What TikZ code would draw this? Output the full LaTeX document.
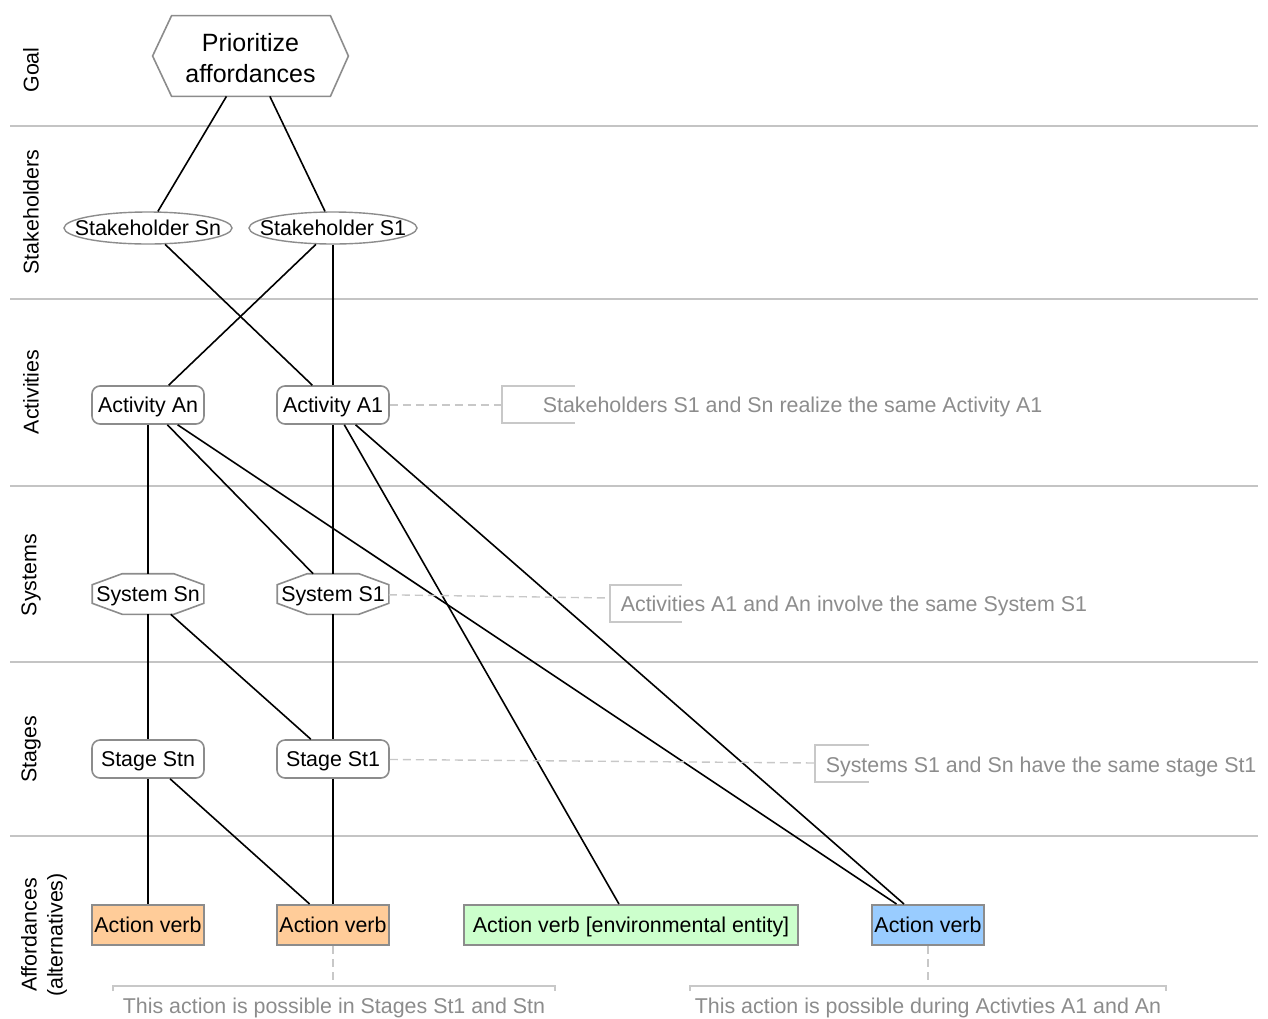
\documentclass[tikz,border=0pt]{standalone}
\usepackage{fontspec}
\setmainfont{Liberation Sans}
\usetikzlibrary{shapes.geometric, calc}

\definecolor{lanegray}{HTML}{C4C4C4}
\definecolor{bordergray}{HTML}{8C8C8C}
\definecolor{notegray}{HTML}{8C8C8C}
\definecolor{notelinegray}{HTML}{C8C8C8}
\definecolor{affstage}{HTML}{FFCC99}
\definecolor{affenv}{HTML}{CCFFCC}
\definecolor{affact}{HTML}{99CCFF}

\begin{document}
\begin{tikzpicture}[x=0.5pt, y=-0.5pt,
    base/.style={font=\fontsize{10.7}{13}\selectfont, inner sep=0pt, line width=0.8pt, text height=7.7pt, text depth=0pt},
    lane/.style={draw=lanegray, line width=0.7pt},
    lanelabel/.style={font=\fontsize{10.7}{13}\selectfont, inner sep=0pt, rotate=90, align=center},
    goalbox/.style={font=\fontsize{12.5}{15.5}\selectfont, inner sep=0pt, text height=26pt, text depth=0pt, minimum width=97.5pt, minimum height=40pt, align=center},
    outline/.style={draw=bordergray, line width=0.8pt},
    holder/.style={base, ellipse, draw=bordergray, line width=0.7pt, inner xsep=-7pt, inner ysep=1.5pt, minimum width=84pt, minimum height=16pt},
    activity/.style={base, draw=bordergray, rounded corners=4pt, minimum width=56pt, minimum height=19pt},
    sysbox/.style={base, minimum width=55pt, minimum height=19.5pt},
    afford/.style={base, draw=bordergray, line width=1pt, minimum width=56pt, minimum height=20pt},
    link/.style={draw=black, line width=0.8pt},
    note/.style={base, text=notegray, anchor=west},
    bracket/.style={draw=notelinegray, line width=0.7pt},
    noteline/.style={draw=notelinegray, line width=0.7pt, dash pattern=on 4pt off 2.5pt}]
    \useasboundingbox (0,0) rectangle (1268,1018);

    % Swim lanes
    \foreach \y in {126,299,486,662,836}
        \draw[lane] (10,\y) -- (1258,\y);
    \node[lanelabel] (lgoal) at (31,70) {Goal};
    \node[lanelabel] (lholder) at (31,212) {Stakeholders};
    \node[lanelabel] (lact) at (31,392) {Activities};
    \node[lanelabel] (lsys) at (31,575) {Systems};
    \node[lanelabel] (lstage) at (31,749) {Stages};
    \node[lanelabel] (laff) at (44,935) {Affordances\\(alternatives)};

    % Goal
    \node[goalbox] (goal) at (250.5,56) {Prioritize\\affordances};
    \draw[outline] (goal.west) -- ($(goal.north west)+(19,0)$) -- ($(goal.north east)+(-18,0)$)
        -- (goal.east) -- ($(goal.south east)+(-18,0)$) -- ($(goal.south west)+(19,0)$) -- cycle;

    % Stakeholders
    \node[holder] (shn) at (148,228) {Stakeholder Sn};
    \node[holder] (sh1) at (333,228) {Stakeholder S1};

    % Activities
    \node[activity] (actn) at (148,405) {Activity An};
    \node[activity] (act1) at (333,405) {Activity A1};

    % Systems
    \node[sysbox] (sysn) at (148,594) {System Sn};
    \node[sysbox] (sys1) at (333,594) {System S1};
    \foreach \n in {sysn,sys1}
        \draw[outline] ($(\n.north west)+(30,0)$) -- ($(\n.north east)+(-30,0)$) -- ($(\n.north east)+(0,11)$)
            -- ($(\n.south east)+(0,-11)$) -- ($(\n.south east)+(-30,0)$) -- ($(\n.south west)+(30,0)$)
            -- ($(\n.south west)+(0,-11)$) -- ($(\n.north west)+(0,11)$) -- cycle;

    % Stages
    \node[activity] (stn) at (148,759) {Stage Stn};
    \node[activity] (st1) at (333,759) {Stage St1};

    % Affordances
    \node[afford, fill=affstage] (affn) at (148,925) {Action verb};
    \node[afford, fill=affstage] (aff1) at (333,925) {Action verb};
    \node[afford, fill=affenv, minimum width=167pt] (affenv) at (631,925) {Action verb [environmental entity]};
    \node[afford, fill=affact] (affact) at (928,925) {Action verb};

    % Links
    \draw[link] (goal) -- (shn);
    \draw[link] (goal) -- (sh1);
    \draw[link] (shn) -- (act1);
    \draw[link] (sh1) -- (actn);
    \draw[link] (sh1) -- (act1);
    \draw[link] (actn) -- (sysn);
    \draw[link] (actn) -- (sys1);
    \draw[link] (actn) -- (affact);
    \draw[link] (act1) -- (sys1);
    \draw[link] (act1) -- (affenv);
    \draw[link] (act1) -- (affact);
    \draw[link] (sysn) -- (stn);
    \draw[link] (sysn) -- (st1);
    \draw[link] (sys1) -- (st1);
    \draw[link] (stn) -- (affn);
    \draw[link] (stn) -- (aff1);
    \draw[link] (st1) -- (aff1);

    % Notes
    \node[note] (noteact) at (542,405) {Stakeholders S1 and Sn realize the same Activity A1};
    \coordinate (noteactb) at (502,405);
    \draw[noteline] (act1) -- (noteactb);
    \draw[bracket] (575,386) -- (502,386) -- (502,423) -- (575,423);

    \node[note] (notesys) at (620,604) {Activities A1 and An involve the same System S1};
    \coordinate (notesysb) at (610,598);
    \draw[noteline] (sys1) -- (notesysb);
    \draw[bracket] (682,585) -- (610,585) -- (610,622) -- (682,622);

    \node[note] (notestage) at (825,765) {Systems S1 and Sn have the same stage St1};
    \coordinate (notestageb) at (815,763);
    \draw[noteline] (st1) -- (notestageb);
    \draw[bracket] (869,745) -- (815,745) -- (815,782) -- (869,782);

    \node[note, anchor=center] (noteaffs) at (334,1005.5) {This action is possible in Stages St1 and Stn};
    \coordinate (noteaffsb) at (333,986);
    \draw[noteline] (aff1) -- (noteaffsb);
    \draw[bracket] (113,991) -- (113,986) -- (555,986) -- (555,991);

    \node[note, anchor=center] (noteaffa) at (928,1005.5) {This action is possible during Activties A1 and An};
    \coordinate (noteaffab) at (928,986);
    \draw[noteline] (affact) -- (noteaffab);
    \draw[bracket] (690,991) -- (690,986) -- (1166,986) -- (1166,991);
\end{tikzpicture}
\end{document}
